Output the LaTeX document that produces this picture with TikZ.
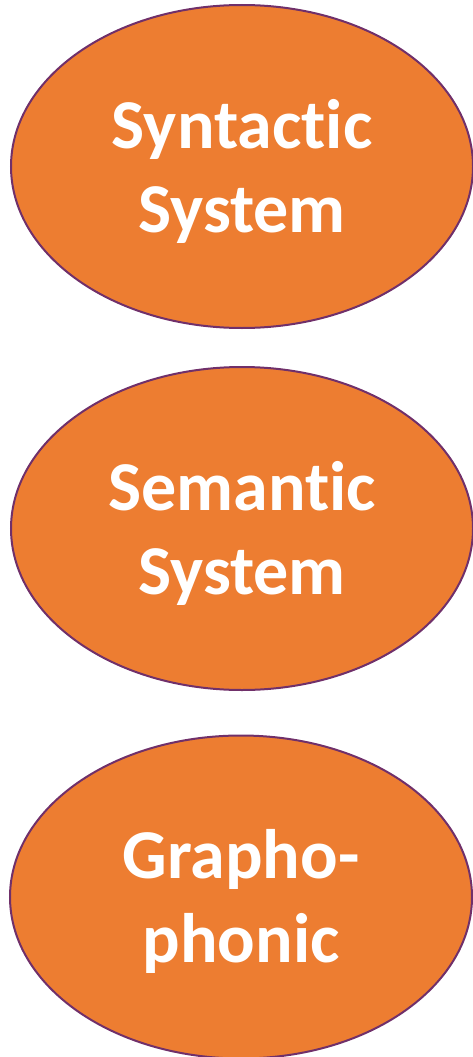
\documentclass[tikz,border=0pt]{standalone}
\usepackage{fontspec}
\setmainfont{Carlito}[Ligatures=NoCommon]
\usetikzlibrary{shapes.geometric}
\definecolor{ovalfill}{HTML}{ED7D31}
\definecolor{ovalline}{HTML}{70306A}
\tikzset{
    sysoval/.style={ellipse, draw=ovalline, line width=2pt, fill=ovalfill,
        minimum width=462pt, minimum height=323pt, inner sep=0pt,
        text=white, align=center, font=\fontsize{70}{84}\selectfont\bfseries,
        text height=150pt, text depth=19pt}
}
\begin{document}
\begin{tikzpicture}[x=1pt,y=1pt]
                    \useasboundingbox (0,0) rectangle (473,-1057);

                    \node [sysoval] (syn) at (242,-166.5) {Syntactic\\System};
                    \node [sysoval] (sem) at (242,-528.5) {Semantic\\System};
                    \node [sysoval] (gra) at (241,-897) {Grapho-\\phonic};
                \end{tikzpicture}
\end{document}
